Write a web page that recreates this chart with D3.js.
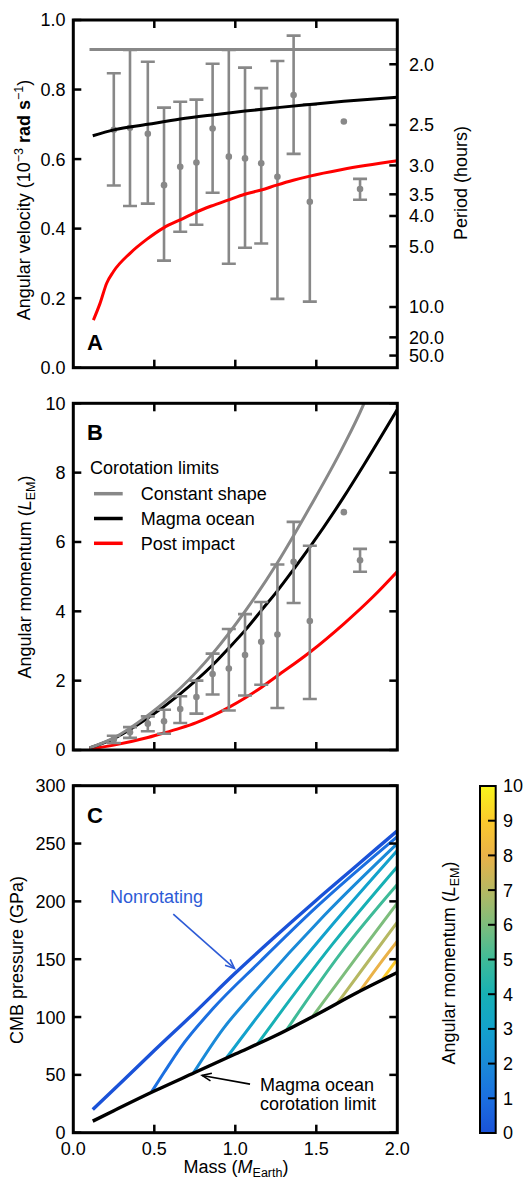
<!DOCTYPE html>
<html>
<head>
<meta charset="utf-8">
<script src="https://d3js.org/d3.v7.min.js"></script>
<style>
  body { margin: 0; background: #fff; }
  text { font-family: "Liberation Sans", Arial, Helvetica, sans-serif; fill: #000; }
</style>
</head>
<body>
<div id="chart"></div>
<script>

// ---- data ----

// planet mass bins (M_Earth), shared by panels A and B
var massBins = [0.25, 0.35, 0.46, 0.56, 0.66, 0.76, 0.86, 0.96, 1.06, 1.16, 1.26, 1.36, 1.46, 1.67, 1.77]

// panel A: angular velocity (1e-3 rad/s), null = no error bar
var omegaMid = [0.684, 0.690, 0.673, 0.525, 0.578, 0.590, 0.688, 0.607, 0.602, 0.588, 0.549, 0.784, 0.477, 0.708, 0.514]
var omegaLo  = [0.524, 0.465, 0.472, 0.308, 0.391, 0.411, 0.503, 0.299, 0.345, 0.357, 0.198, 0.615, 0.190, null, 0.483]
var omegaHi  = [0.847, 0.914, 0.880, 0.748, 0.765, 0.771, 0.874, 0.914, 0.863, 0.804, 0.882, 0.955, 0.757, null, 0.543]

// panel B: angular momentum (L_EM)
var momMid = [0.30, 0.51, 0.76, 0.83, 1.18, 1.53, 2.19, 2.35, 2.74, 3.12, 3.33, 5.43, 3.72, 6.86, 5.47]
var momLo  = [0.20, 0.35, 0.54, 0.47, 0.78, 1.05, 1.60, 1.14, 1.57, 1.88, 1.21, 4.24, 1.47, null, 5.14]
var momHi  = [0.41, 0.66, 0.97, 1.16, 1.55, 2.00, 2.78, 3.49, 3.92, 4.27, 5.35, 6.58, 5.89, null, 5.80]

// corotation limits, panel A (omega)
var omegaConstShape = [[0.10, 0.915], [2.0, 0.915]]
var omegaMagma = [[0.12, 0.667], [0.25, 0.684], [0.46, 0.700], [0.66, 0.715], [0.86, 0.727], [1.06, 0.738],
                  [1.26, 0.748], [1.46, 0.757], [1.67, 0.766], [2.0, 0.778]]
var omegaPost = [[0.124, 0.137], [0.165, 0.185], [0.206, 0.243], [0.247, 0.276], [0.35, 0.329], [0.453, 0.369],
                 [0.56, 0.403], [0.659, 0.425], [0.756, 0.447], [0.852, 0.465], [0.955, 0.482], [1.058, 0.499],
                 [1.16, 0.511], [1.255, 0.525], [1.358, 0.539], [1.46, 0.551], [1.66, 0.570], [2.0, 0.595]]

// corotation limits, panel B (angular momentum)
var momConstShape = [[0.10, 0.06], [0.25, 0.35], [0.46, 1.0], [0.66, 1.78], [0.86, 2.78], [1.06, 4.0],
                     [1.26, 5.4], [1.46, 7.0], [1.66, 8.7], [1.79, 9.95], [1.83, 10.4]]
var momMagma = [[0.10, 0.06], [0.25, 0.33], [0.46, 0.92], [0.66, 1.62], [0.86, 2.45], [0.96, 2.94], [1.06, 3.45],
                [1.165, 4.05], [1.26, 4.59], [1.36, 5.21], [1.46, 5.85], [1.67, 7.3], [1.8, 8.27], [2.0, 9.82]]
var momPost = [[0.10, 0.03], [0.25, 0.14], [0.46, 0.36], [0.56, 0.49], [0.66, 0.63], [0.76, 0.79], [0.86, 0.99],
               [0.96, 1.23], [1.06, 1.5], [1.165, 1.82], [1.26, 2.14], [1.46, 2.82], [1.67, 3.64], [1.85, 4.42], [2.0, 5.15]]

// panel C: CMB pressure (GPa)
var cmbMagmaLimit = [[0.12, 10], [0.25, 19], [0.5, 36], [0.75, 52], [1.0, 68], [1.25, 84], [1.5, 102], [1.75, 121], [2.0, 138.5]]
var cmbLevels = [0, 1, 2, 3, 4, 5, 6, 7, 8, 9]
var cmbCurves = [
  [[0.12, 20], [0.3, 44], [0.5, 71], [0.75, 104], [1.0, 138], [1.25, 170], [1.5, 201], [1.75, 231], [2.0, 261]],
  [[0.484, 35.5], [0.56, 52], [0.659, 73], [0.864, 107.5], [1.152, 147.8], [1.5, 195], [2.0, 256]],
  [[0.741, 51.5], [0.926, 90], [1.12, 122], [1.55, 188], [2.0, 250]],
  [[0.947, 65], [1.152, 103], [1.6, 180], [2.0, 244]],
  [[1.136, 76.5], [1.245, 97.4], [1.6, 163], [2.0, 230]],
  [[1.317, 89], [1.358, 97.4], [1.65, 155], [2.0, 214.5]],
  [[1.48, 101], [1.75, 152], [2.0, 198.5]],
  [[1.63, 112], [1.82, 148], [2.0, 182]],
  [[1.77, 122.5], [1.89, 145.5], [2.0, 165.5]],
  [[1.91, 133], [2.0, 150]]
]

// ticks
var massTicks = [0, 0.5, 1.0, 1.5, 2.0]
var omegaTicks = [0, 0.2, 0.4, 0.6, 0.8, 1.0]
var periodTicks = [2.0, 2.5, 3.0, 3.5, 4.0, 5.0, 10.0, 20.0, 50.0]
var momTicks = [0, 2, 4, 6, 8, 10]
var cmbTicks = [0, 50, 100, 150, 200, 250, 300]
var cbTicks = [0, 1, 2, 3, 4, 5, 6, 7, 8, 9, 10]
var cbColors = ["#1a52d8", "#1b6fe0", "#1a8ad8", "#13a2cc", "#17b0b4", "#3fbb98", "#7dbd7c", "#b6b862", "#eab248", "#fcca2c", "#f8f51c"]

// ---- layout ----
var W = 524, H = 1179
var left = 73.3, right = 397.3
var gray = "#888888"
var fs = "18px", fsSmall = "12.5px"

var svg = d3.select("#chart").append("svg")
  .attr("width", W).attr("height", H)

var x = d3.scaleLinear().domain([0, 2]).range([left, right])
var yA = d3.scaleLinear().domain([0, 1]).range([367.7, 20])
var yB = d3.scaleLinear().domain([0, 10]).range([750, 403.3])
var yC = d3.scaleLinear().domain([0, 300]).range([1132.7, 785.7])
var color = d3.scaleLinear().domain(cbTicks).range(cbColors)

function clip(id, y) {
  svg.append("clipPath").attr("id", id).append("rect")
    .attr("x", left).attr("y", y.range()[1])
    .attr("width", right - left).attr("height", y.range()[0] - y.range()[1])
}

function frame(y, yticks, rightTicks) {
  var g = svg.append("g")
  var t = 8
  g.selectAll(".tl").data(yticks).enter().append("line")
    .attr("x1", left).attr("x2", left + t)
    .attr("y1", function(d) { return y(d) }).attr("y2", function(d) { return y(d) })
    .attr("stroke", "#000").attr("stroke-width", 2.5)
  if (rightTicks) {
    g.selectAll(".tr").data(yticks).enter().append("line")
      .attr("x1", right).attr("x2", right - t)
      .attr("y1", function(d) { return y(d) }).attr("y2", function(d) { return y(d) })
      .attr("stroke", "#000").attr("stroke-width", 2.5)
  }
  var inner = massTicks.slice(1, 4)
  g.selectAll(".tt").data(inner).enter().append("line")
    .attr("x1", function(d) { return x(d) }).attr("x2", function(d) { return x(d) })
    .attr("y1", y.range()[1]).attr("y2", y.range()[1] + t)
    .attr("stroke", "#000").attr("stroke-width", 2.5)
  g.selectAll(".tb").data(inner).enter().append("line")
    .attr("x1", function(d) { return x(d) }).attr("x2", function(d) { return x(d) })
    .attr("y1", y.range()[0]).attr("y2", y.range()[0] - t)
    .attr("stroke", "#000").attr("stroke-width", 2.5)
  g.selectAll(".ll").data(yticks).enter().append("text")
    .attr("x", 65.5).attr("y", function(d) { return y(d) }).attr("dy", "0.36em")
    .attr("text-anchor", "end").style("font-size", fs)
    .text(function(d) { return y === yA ? d3.format(".1f")(d) : d })
  g.append("rect")
    .attr("x", left).attr("y", y.range()[1])
    .attr("width", right - left).attr("height", y.range()[0] - y.range()[1])
    .attr("fill", "none").attr("stroke", "#000").attr("stroke-width", 3)
  return g
}

function errorBars(g, y, mid, lo, hi) {
  var idx = d3.range(massBins.length)
  var bars = idx.filter(function(i) { return lo[i] !== null })
  g.selectAll(".eb").data(bars).enter().append("line")
    .attr("x1", function(i) { return x(massBins[i]) }).attr("x2", function(i) { return x(massBins[i]) })
    .attr("y1", function(i) { return y(lo[i]) }).attr("y2", function(i) { return y(hi[i]) })
    .attr("stroke", gray).attr("stroke-width", 2.6)
  ;[lo, hi].forEach(function(arr) {
    g.selectAll(null).data(bars).enter().append("line")
      .attr("x1", function(i) { return x(massBins[i]) - 7 }).attr("x2", function(i) { return x(massBins[i]) + 7 })
      .attr("y1", function(i) { return y(arr[i]) }).attr("y2", function(i) { return y(arr[i]) })
      .attr("stroke", gray).attr("stroke-width", 2.6)
  })
  g.selectAll(".pt").data(idx).enter().append("circle")
    .attr("cx", function(i) { return x(massBins[i]) }).attr("cy", function(i) { return y(mid[i]) })
    .attr("r", 3.3).attr("fill", gray)
}

function curve(g, y, data, col, w) {
  var line = d3.line().x(function(d) { return x(d[0]) }).y(function(d) { return y(d[1]) })
    .curve(d3.curveMonotoneX)
  g.append("path").datum(data).attr("d", line)
    .attr("fill", "none").attr("stroke", col).attr("stroke-width", w)
    .attr("stroke-linecap", "butt")
}

function panelLetter(txt, y) {
  svg.append("text").attr("x", 87).attr("y", y)
    .style("font-size", "22px").style("font-weight", "bold").text(txt)
}

function yLabel(xpos, ycen, build) {
  var t = svg.append("text")
    .attr("transform", "translate(" + xpos + "," + ycen + ") rotate(-90)")
    .attr("text-anchor", "middle").style("font-size", fs)
  build(t)
  return t
}

function momLabel(t) {
  t.append("tspan").text("Angular momentum (")
  t.append("tspan").style("font-style", "italic").text("L")
  t.append("tspan").attr("dy", 4).style("font-size", fsSmall).text("EM")
  t.append("tspan").attr("dy", -4).text(")")
}

// ---------- panel A ----------
clip("clipA", yA)
var gA = svg.append("g").attr("clip-path", "url(#clipA)")
curve(gA, yA, omegaConstShape, gray, 3)
errorBars(gA, yA, omegaMid, omegaLo, omegaHi)
curve(gA, yA, omegaMagma, "#000", 3)
curve(gA, yA, omegaPost, "#ff0000", 3)
frame(yA, omegaTicks, false)

// period axis on the right
function periodToOmega(p) { return 2 * Math.PI / (p * 3600) * 1000 }
svg.selectAll(".pt2").data(periodTicks).enter().append("line")
  .attr("x1", right).attr("x2", right - 8)
  .attr("y1", function(d) { return yA(periodToOmega(d)) }).attr("y2", function(d) { return yA(periodToOmega(d)) })
  .attr("stroke", "#000").attr("stroke-width", 2.5)
svg.selectAll(".pl").data(periodTicks).enter().append("text")
  .attr("x", 409).attr("y", function(d) { return yA(periodToOmega(d)) }).attr("dy", "0.36em")
  .style("font-size", fs).text(function(d) { return d3.format(".1f")(d) })

yLabel(30, 200, function(t) {
  t.append("tspan").text("Angular velocity (10")
  t.append("tspan").attr("dy", -7).style("font-size", fsSmall).text("\u22123")
  t.append("tspan").attr("dy", 7).style("font-weight", "bold").text(" rad s")
  t.append("tspan").attr("dy", -7).style("font-size", fsSmall).text("\u22121")
  t.append("tspan").attr("dy", 7).text(")")
})
yLabel(467, 183, function(t) { t.text("Period (hours)") })
panelLetter("A", 350)

// ---------- panel B ----------
clip("clipB", yB)
var gB = svg.append("g").attr("clip-path", "url(#clipB)")
curve(gB, yB, momPost, "#ff0000", 3)
curve(gB, yB, momMagma, "#000", 3)
curve(gB, yB, momConstShape, gray, 3)
errorBars(gB, yB, momMid, momLo, momHi)
frame(yB, momTicks, true)

yLabel(31, 577, momLabel)
panelLetter("B", 440)

// legend
var legendNames = ["Constant shape", "Magma ocean", "Post impact"]
var legendColors = [gray, "#000", "#ff0000"]
svg.append("text").attr("x", 90).attr("y", 474).style("font-size", fs).text("Corotation limits")
var lg = svg.selectAll(".lg").data(legendNames).enter().append("g")
  .attr("transform", function(d, i) { return "translate(0," + (493.7 + i * 24.8) + ")" })
lg.append("line").attr("x1", 94).attr("x2", 122.7)
  .attr("stroke", function(d, i) { return legendColors[i] }).attr("stroke-width", 3.5)
lg.append("text").attr("x", 140.7).attr("dy", "0.36em").style("font-size", fs).text(function(d) { return d })

// ---------- panel C ----------
clip("clipC", yC)
var gC = svg.append("g").attr("clip-path", "url(#clipC)")
cmbCurves.slice().reverse().forEach(function(c, k) {
  var lev = cmbLevels[cmbCurves.length - 1 - k]
  curve(gC, yC, c, color(lev), lev === 0 ? 3.4 : 3)
})
curve(gC, yC, cmbMagmaLimit, "#000", 3.4)
frame(yC, cmbTicks, true)

svg.selectAll(".xl").data(massTicks).enter().append("text")
  .attr("x", function(d) { return x(d) }).attr("y", 1155)
  .attr("text-anchor", "middle").style("font-size", fs)
  .text(function(d) { return d3.format(".1f")(d) })
var xl = svg.append("text").attr("x", 236).attr("y", 1173)
  .attr("text-anchor", "middle").style("font-size", fs)
xl.append("tspan").text("Mass (")
xl.append("tspan").style("font-style", "italic").text("M")
xl.append("tspan").attr("dy", 4).style("font-size", fsSmall).text("Earth")
xl.append("tspan").attr("dy", -4).text(")")

yLabel(23, 960, function(t) { t.text("CMB pressure (GPa)") })
panelLetter("C", 823)

// annotations
var defs = svg.append("defs")
function arrow(from, to, col) {
  var x1 = x(from[0]), y1 = yC(from[1]), x2 = x(to[0]), y2 = yC(to[1])
  var a = Math.atan2(y2 - y1, x2 - x1), L = 10, s = 0.4
  svg.append("line").attr("x1", x1).attr("y1", y1).attr("x2", x2).attr("y2", y2)
    .attr("stroke", col).attr("stroke-width", 1.6)
  svg.append("path")
    .attr("d", "M" + (x2 - L * Math.cos(a - s)) + "," + (y2 - L * Math.sin(a - s)) +
      "L" + x2 + "," + y2 + "L" + (x2 - L * Math.cos(a + s)) + "," + (y2 - L * Math.sin(a + s)))
    .attr("fill", "none").attr("stroke", col).attr("stroke-width", 1.6)
}
svg.append("text").attr("x", x(0.227)).attr("y", yC(199)).style("font-size", fs)
  .style("fill", "#2d5bd6").text("Nonrotating")
arrow([0.617, 189], [0.995, 142], "#2d5bd6")
svg.append("text").attr("x", x(1.152)).attr("y", yC(36)).style("font-size", fs).text("Magma ocean")
svg.append("text").attr("x", x(1.152)).attr("y", yC(19.6)).style("font-size", fs).text("corotation limit")
arrow([1.091, 42], [0.795, 49.5], "#000")

// colorbar
var cbY = d3.scaleLinear().domain([0, 10]).range([1133, 786])
var grad = defs.append("linearGradient").attr("id", "cbgrad")
  .attr("x1", 0).attr("y1", 1).attr("x2", 0).attr("y2", 0)
grad.selectAll("stop").data(cbTicks).enter().append("stop")
  .attr("offset", function(d) { return d / 10 }).attr("stop-color", function(d) { return color(d) })
svg.append("rect").attr("x", 480).attr("y", 786).attr("width", 15.7).attr("height", 347)
  .attr("fill", "url(#cbgrad)").attr("stroke", "#000").attr("stroke-width", 2)
svg.selectAll(".cbt").data(cbTicks.slice(1, 10)).enter().append("line")
  .attr("x1", 495.7).attr("x2", 488)
  .attr("y1", function(d) { return cbY(d) }).attr("y2", function(d) { return cbY(d) })
  .attr("stroke", "#000").attr("stroke-width", 2)
svg.selectAll(".cbl").data(cbTicks).enter().append("text")
  .attr("x", 503).attr("y", function(d) { return cbY(d) }).attr("dy", "0.36em")
  .style("font-size", fs).text(function(d) { return d })
yLabel(455, 963, momLabel)

</script>
</body>
</html>
